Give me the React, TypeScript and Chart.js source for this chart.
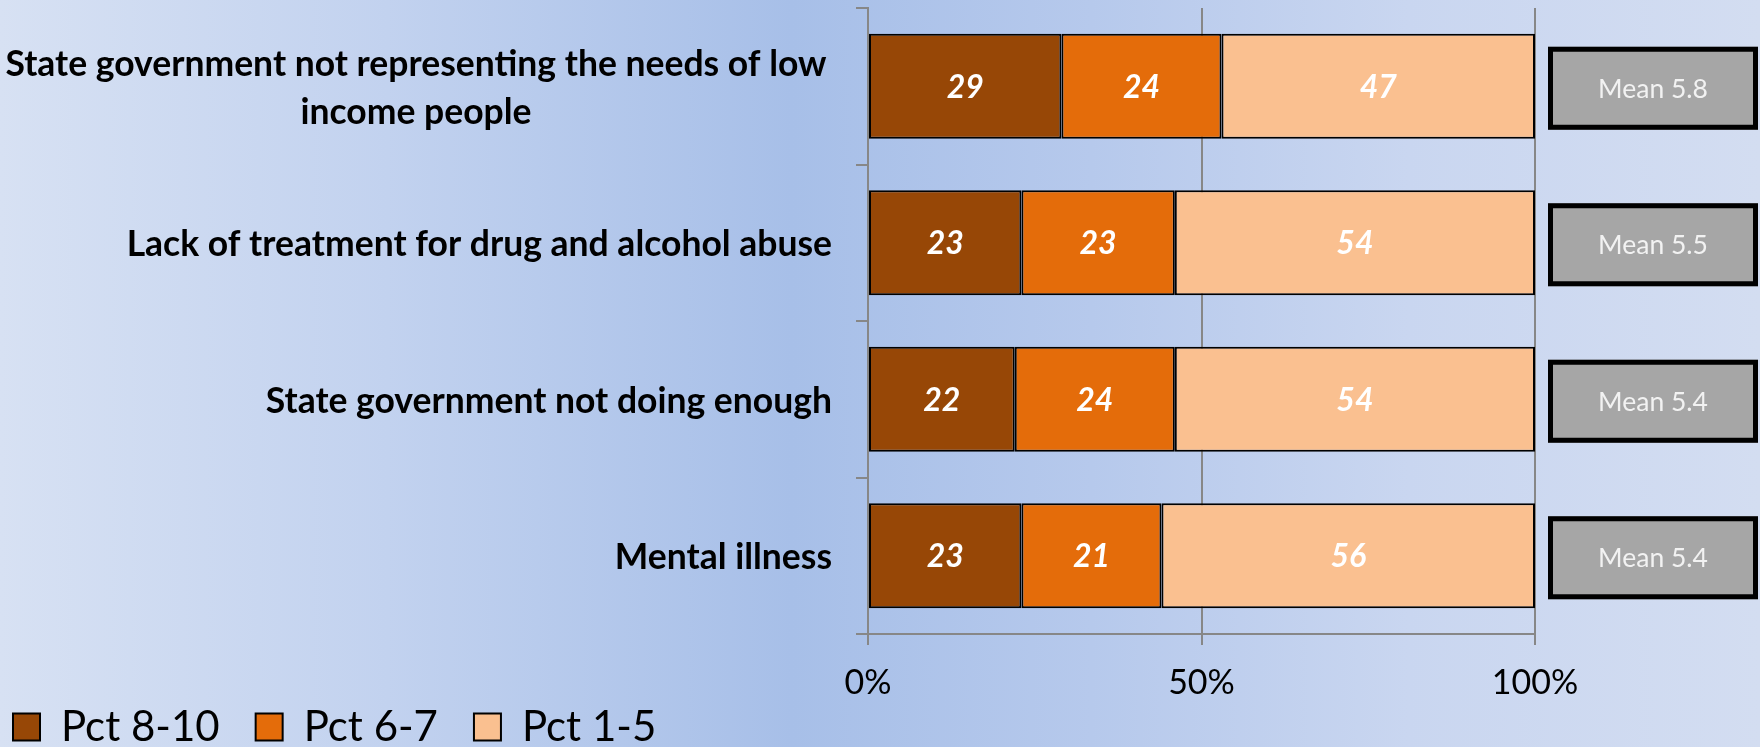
import React, { useEffect, useRef } from 'react';
import { Chart, registerables } from 'chart.js';

Chart.register(...registerables);

// ---- data ----
const categories: string[][] = [
  ['State government not representing the needs of low', 'income people'],
  ['Lack of treatment for drug and alcohol abuse'],
  ['State government not doing enough'],
  ['Mental illness'],
];
const seriesNames = ['Pct 8-10', 'Pct 6-7', 'Pct 1-5'];
const pct8to10 = [29, 23, 22, 23];
const pct6to7 = [24, 23, 24, 21];
const pct1to5 = [47, 54, 54, 56];
const means = [5.8, 5.5, 5.4, 5.4];
const xTickValues = [0, 50, 100];

const seriesColors = ['#974706', '#e46c0a', '#fac090'];
const FONT = 'Lato, "Noto Sans", sans-serif';
const GRID = '#878787';
const LEGEND_TOP = 670;

const categoryLabelsPlugin = {
  id: 'categoryLabels',
  afterDraw(chart: any) {
    const { ctx, chartArea } = chart;
    const y = chart.scales.y;
    const right = chartArea.left - 36;
    ctx.save();
    ctx.fillStyle = '#000';
    ctx.font = `bold 35.5px ${FONT}`;
    ctx.textBaseline = 'middle';
    categories.forEach((lines, i) => {
      const cy = y.getPixelForValue(i) + 2;
      const lh = 48;
      lines.forEach((line, j) => {
        const ly = cy + (j - (lines.length - 1) / 2) * lh;
        if (lines.length > 1) {
          ctx.textAlign = 'center';
          ctx.fillText(line, right / 2, ly);
        } else {
          ctx.textAlign = 'right';
          ctx.fillText(line, right, ly);
        }
      });
    });
    ctx.restore();
  },
};

const valueLabelsPlugin = {
  id: 'valueLabels',
  afterDatasetsDraw(chart: any) {
    const { ctx } = chart;
    ctx.save();
    ctx.fillStyle = '#ffffff';
    ctx.font = `italic bold 32px ${FONT}`;
    ctx.textAlign = 'center';
    ctx.textBaseline = 'middle';
    chart.data.datasets.forEach((ds: any, di: number) => {
      const meta = chart.getDatasetMeta(di);
      meta.data.forEach((el: any, i: number) => {
        const p = el.getCenterPoint();
        ctx.fillText(String(ds.data[i]), p.x, p.y + 1);
      });
    });
    ctx.restore();
  },
};

const meanBoxesPlugin = {
  id: 'meanBoxes',
  afterDraw(chart: any) {
    const { ctx, chartArea } = chart;
    const y = chart.scales.y;
    const x0 = chartArea.right + 13;
    const w = 210;
    const h = 83;
    ctx.save();
    means.forEach((m, i) => {
      const cy = y.getPixelForValue(i) + 2;
      const top = cy - h / 2;
      ctx.fillStyle = '#a6a6a6';
      ctx.fillRect(x0, top, w, h);
      ctx.lineWidth = 5;
      ctx.strokeStyle = '#000';
      ctx.strokeRect(x0 + 2.5, top + 2.5, w - 5, h - 5);
      ctx.fillStyle = '#f2f2f2';
      ctx.font = `26.5px ${FONT}`;
      ctx.textAlign = 'center';
      ctx.textBaseline = 'middle';
      ctx.fillText(`Mean ${m.toFixed(1)}`, x0 + w / 2, cy + 1);
    });
    ctx.restore();
  },
};

const legendShiftPlugin = {
  id: 'legendShift',
  afterLayout(chart: any) {
    const lg = chart.legend;
    if (!lg) return;
    const dy = LEGEND_TOP - lg.top;
    lg.top += dy;
    lg.bottom += dy;
  },
};

export default function App() {
  const ref = useRef<HTMLCanvasElement>(null);

  useEffect(() => {
    if (!ref.current) return;
    const values = [pct8to10, pct6to7, pct1to5];
    const chart = new Chart(ref.current, {
      type: 'bar',
      data: {
        labels: categories.map((c) => c.join(' ')),
        datasets: seriesNames.map((name, k) => ({
          label: name,
          data: values[k],
          backgroundColor: seriesColors[k],
          borderColor: '#000000',
          borderWidth: 2,
          borderSkipped: false,
          categoryPercentage: 1,
          barPercentage: 0.67,
        })),
      },
      options: {
        indexAxis: 'y',
        responsive: true,
        maintainAspectRatio: false,
        animation: false,
        layout: { padding: { left: -23, right: 225, top: 8, bottom: -45 } },
        plugins: {
          tooltip: { enabled: false },
          legend: {
            position: 'bottom',
            align: 'start',
            labels: {
              boxWidth: 27,
              boxHeight: 27,
              padding: 36,
              color: '#000',
              font: { family: FONT, size: 42 },
            },
          },
        },
        scales: {
          x: {
            stacked: true,
            min: 0,
            max: 100,
            afterBuildTicks(scale: any) {
              scale.ticks = xTickValues.map((v) => ({ value: v }));
            },
            afterFit(scale: any) {
              scale.height = 70;
            },
            ticks: {
              callback: (v: any) => `${v}%`,
              color: '#000',
              font: { family: FONT, size: 34 },
              padding: 18,
              maxRotation: 0,
            },
            grid: { color: GRID, lineWidth: 2, tickLength: 11 },
            border: { display: true, color: GRID, width: 2 },
          },
          y: {
            stacked: true,
            afterFit(scale: any) {
              scale.width = 891;
            },
            ticks: { display: false },
            grid: {
              drawOnChartArea: false,
              offset: true,
              tickLength: 12,
              color: GRID,
              lineWidth: 2,
            },
            border: { display: true, color: GRID, width: 2 },
          },
        },
      },
      plugins: [legendShiftPlugin, categoryLabelsPlugin, valueLabelsPlugin, meanBoxesPlugin],
    } as any);
    return () => chart.destroy();
  }, []);

  return (
    <div
      style={{
        position: 'fixed',
        left: 0,
        top: 0,
        width: 1760,
        height: 747,
        background:
          'linear-gradient(90deg, #d7e1f3 0%, #c2d2ef 22%, #a7bfe8 45%, #b6c9ec 62%, #c9d6f0 80%, #d3ddf1 100%)',
      }}
    >
      <canvas ref={ref} />
    </div>
  );
}
